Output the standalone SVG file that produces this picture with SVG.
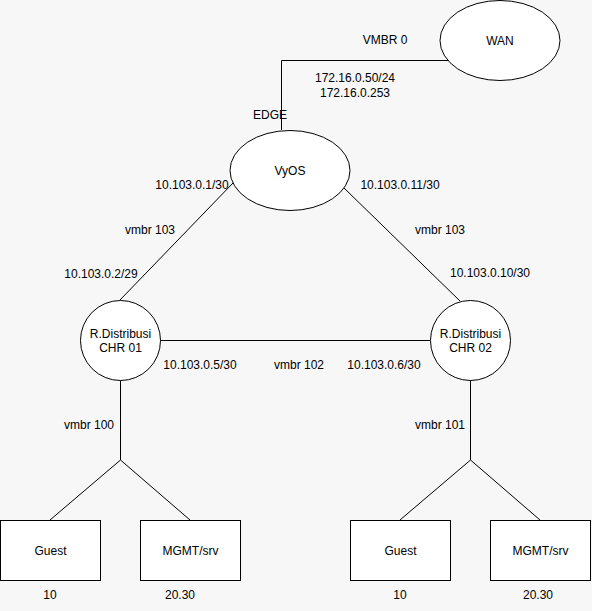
<svg xmlns="http://www.w3.org/2000/svg" width="592" height="611" viewBox="0 0 592 611">
<style>
.n{fill:#ffffff;stroke:#000000;stroke-width:1}
.c{fill:none;stroke:#000000;stroke-width:1}
text{font-family:"Liberation Sans",Arial,sans-serif;font-size:12px;fill:#000000;text-anchor:middle}
</style>
<rect x="0" y="0" width="592" height="611" fill="#f7f7f7"/>
<g id="connectors">
<polyline class="c" points="448,60.5 281.5,60.5 281.5,130"/>
<line class="c" x1="233" y1="183" x2="120" y2="300"/>
<line class="c" x1="344" y1="188" x2="460" y2="301"/>
<line class="c" x1="160" y1="340.5" x2="430" y2="340.5"/>
<polyline class="c" points="120.5,380 120.5,460 50,520"/>
<line class="c" x1="120.5" y1="460" x2="190" y2="520"/>
<polyline class="c" points="470.5,380 470.5,460 400,520"/>
<line class="c" x1="470.5" y1="460" x2="540" y2="520"/>
</g>
<g id="labels">
<text x="385" y="44">VMBR 0</text>
<text x="355" y="82">172.16.0.50/24</text>
<text x="355" y="96.5">172.16.0.253</text>
<text x="270" y="119">EDGE</text>
<text x="192" y="189">10.103.0.1/30</text>
<text x="400" y="189">10.103.0.11/30</text>
<text x="150" y="234">vmbr 103</text>
<text x="440" y="234">vmbr 103</text>
<text x="101" y="278">10.103.0.2/29</text>
<text x="490" y="277">10.103.0.10/30</text>
<text x="200" y="369">10.103.0.5/30</text>
<text x="299" y="369">vmbr 102</text>
<text x="384" y="369">10.103.0.6/30</text>
<text x="89" y="429">vmbr 100</text>
<text x="440" y="429">vmbr 101</text>
<text x="50" y="599">10</text>
<text x="180" y="599">20.30</text>
<text x="400" y="599">10</text>
<text x="538" y="599">20.30</text>
</g>
<g id="wan">
<ellipse class="n" cx="500" cy="40.5" rx="60" ry="40"/>
<text x="500" y="44.5">WAN</text>
</g>
<g id="vyos">
<ellipse class="n" cx="290" cy="170.5" rx="60" ry="40"/>
<text x="290" y="174.5">VyOS</text>
</g>
<g id="chr01">
<ellipse class="n" cx="120.5" cy="340.5" rx="40" ry="40"/>
<text x="120.5" y="338">R.Distribusi</text>
<text x="120.5" y="352">CHR 01</text>
</g>
<g id="chr02">
<ellipse class="n" cx="470.5" cy="340.5" rx="40" ry="40"/>
<text x="470.5" y="338">R.Distribusi</text>
<text x="470.5" y="352">CHR 02</text>
</g>
<g id="guest1">
<rect class="n" x="0.5" y="520.5" width="100" height="60"/>
<text x="50.5" y="554.5">Guest</text>
</g>
<g id="mgmt1">
<rect class="n" x="140.5" y="520.5" width="100" height="60"/>
<text x="190.5" y="554.5">MGMT/srv</text>
</g>
<g id="guest2">
<rect class="n" x="350.5" y="520.5" width="100" height="60"/>
<text x="400.5" y="554.5">Guest</text>
</g>
<g id="mgmt2">
<rect class="n" x="490.5" y="520.5" width="100" height="60"/>
<text x="540.5" y="554.5">MGMT/srv</text>
</g>
</svg>
